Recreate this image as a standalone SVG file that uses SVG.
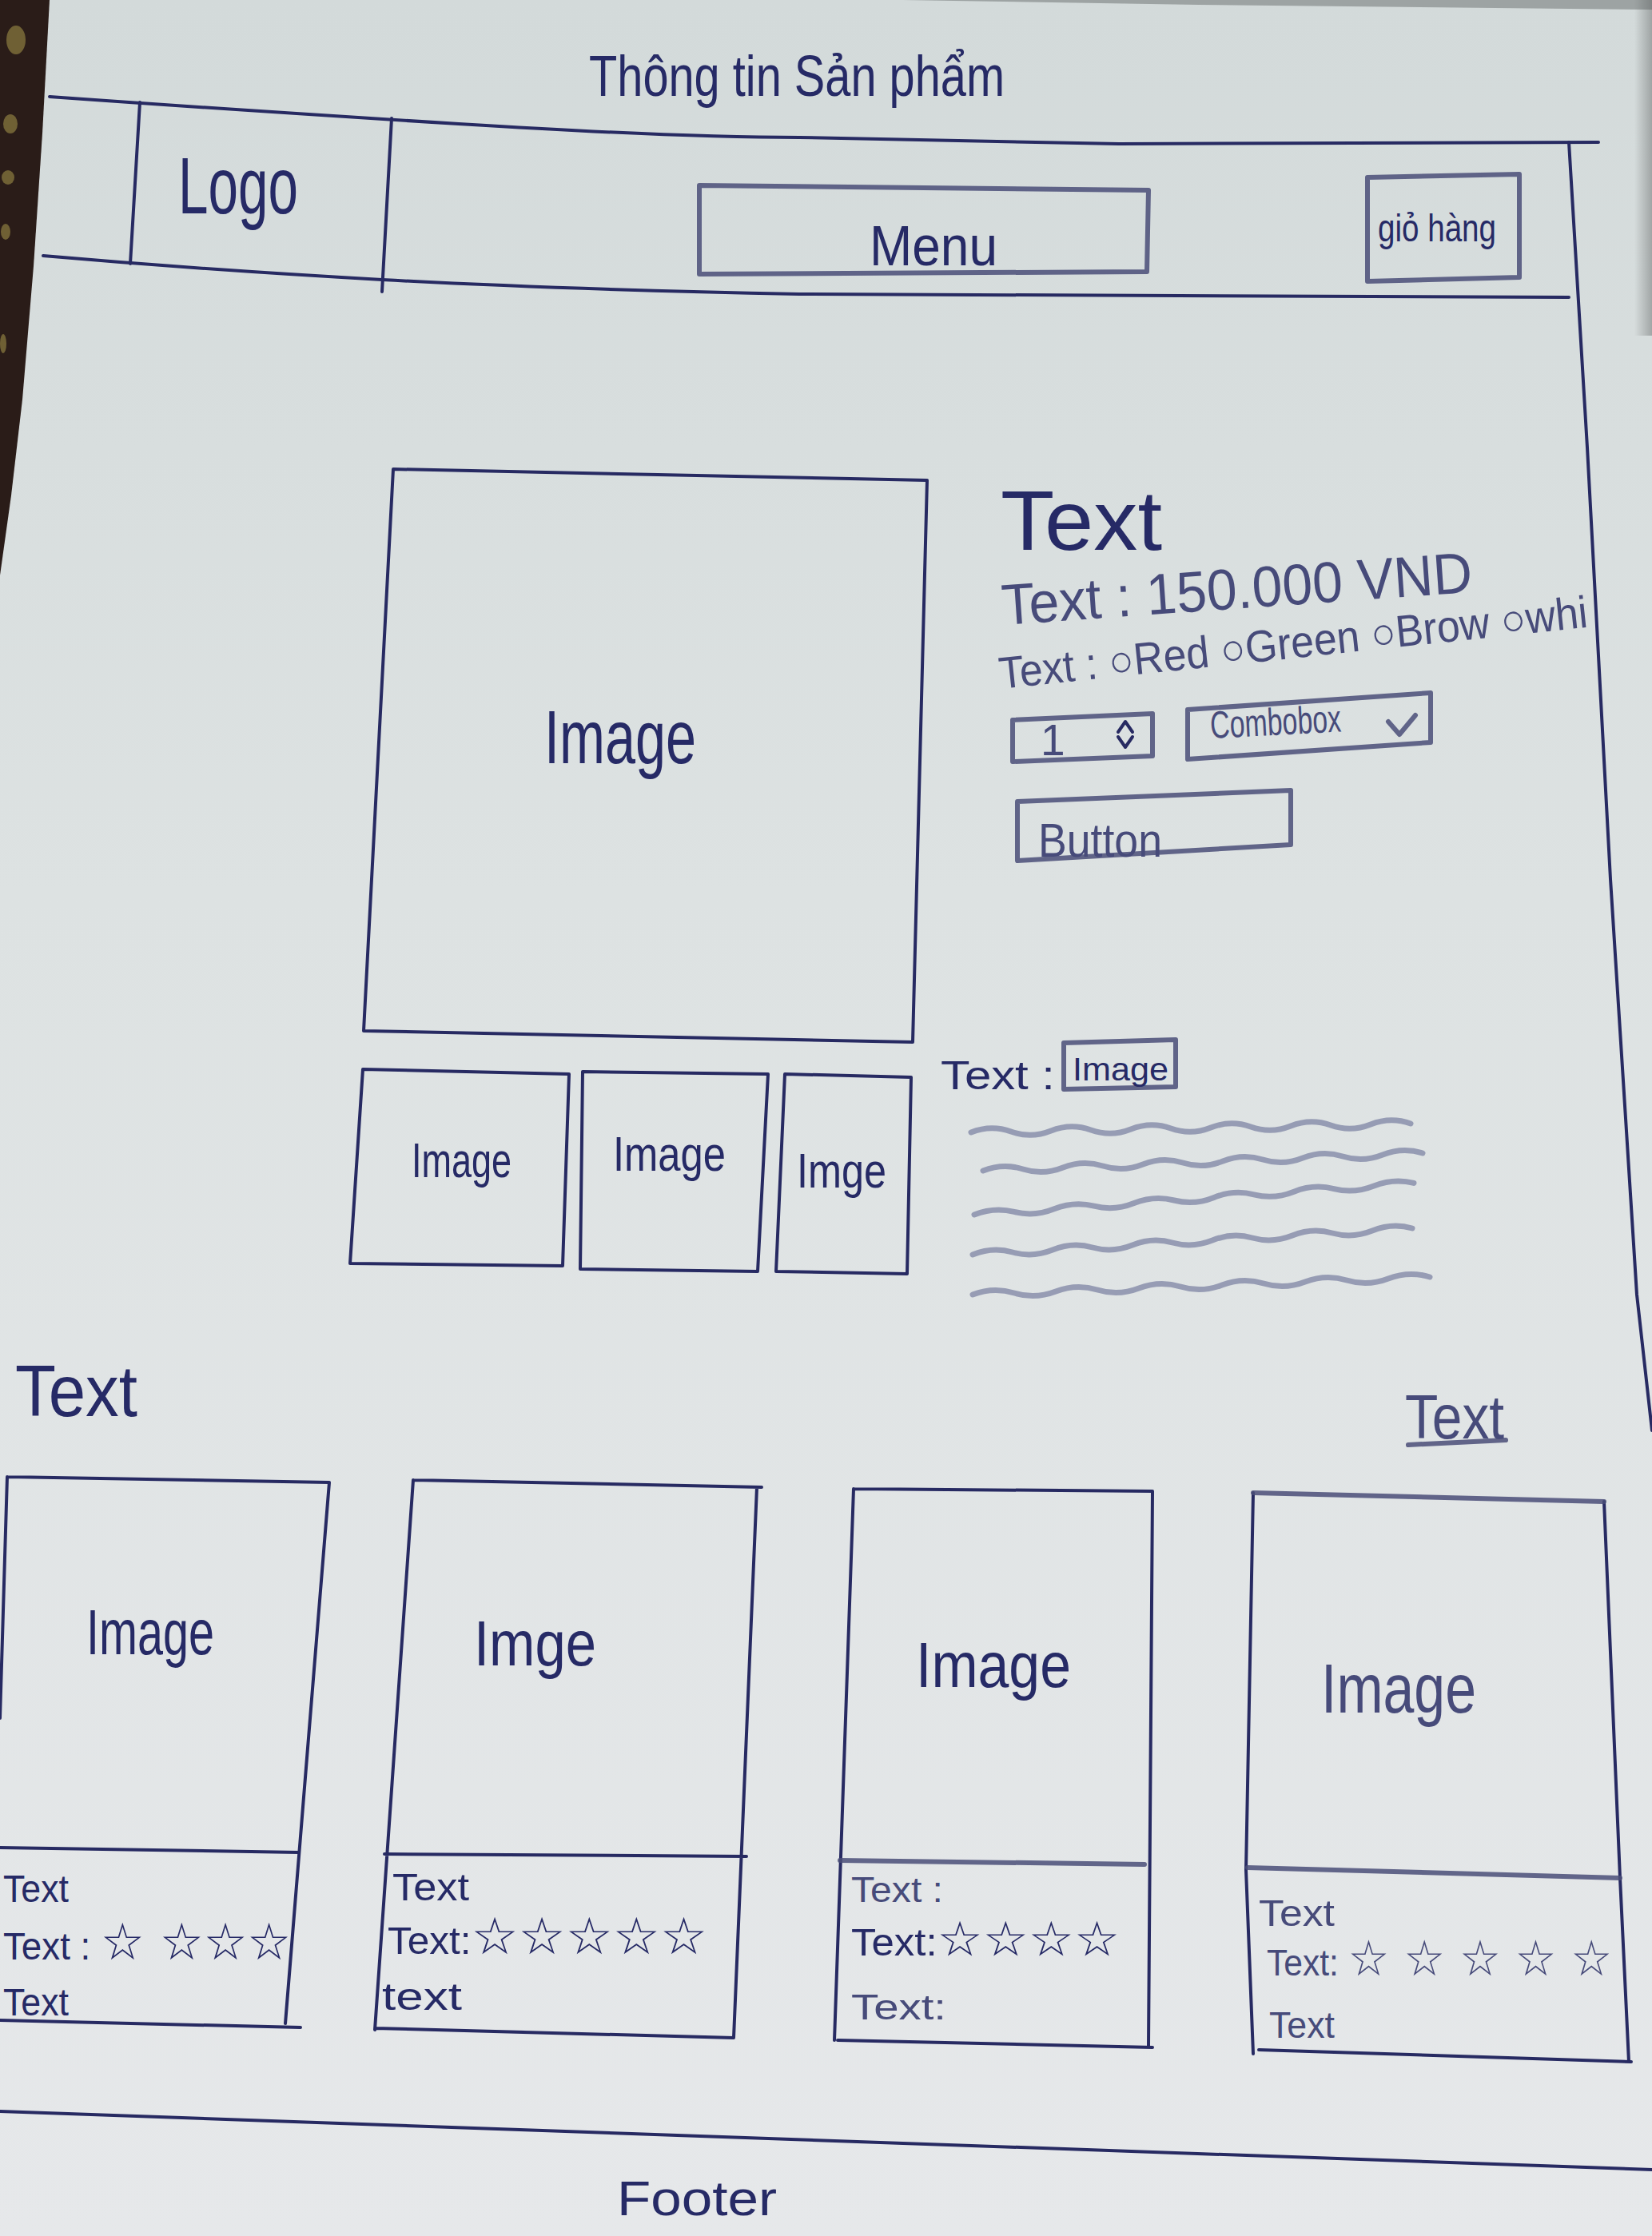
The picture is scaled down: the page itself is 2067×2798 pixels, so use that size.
<svg xmlns="http://www.w3.org/2000/svg" width="2067" height="2798" viewBox="0 0 2067 2798">
<defs>
  <linearGradient id="paper" x1="0" y1="0" x2="0" y2="1">
    <stop offset="0" stop-color="#d3dada"/>
    <stop offset="0.4" stop-color="#dde2e2"/>
    <stop offset="1" stop-color="#e6e8ea"/>
  </linearGradient>
  <linearGradient id="edgeShade" x1="0" y1="0" x2="1" y2="0">
    <stop offset="0" stop-color="#000" stop-opacity="0"/>
    <stop offset="1" stop-color="#000" stop-opacity="0.25"/>
  </linearGradient>
</defs>
<style>
  .ink{fill:none;stroke:#272a62;stroke-width:4;stroke-linecap:round;stroke-linejoin:round}
  .soft{fill:none;stroke:#4a4e78;stroke-width:6;stroke-linecap:round;stroke-linejoin:round;opacity:.85}
  .wave{fill:none;stroke:#8a8fab;stroke-width:7;stroke-linecap:round;stroke-linejoin:round;opacity:.85}
  text{font-family:"Liberation Sans","DejaVu Sans",sans-serif;fill:#262a66}
  .pale{fill:#474b7a}
  .star{font-family:"DejaVu Sans",sans-serif}
</style>

<!-- paper sheet and surroundings -->
<rect width="2067" height="2798" fill="url(#paper)"/>
<polygon points="0,0 62,0 53,167 42,333 28,500 14,620 0,720" fill="#2a1c18"/>
<g fill="#a8984c" opacity="0.55">
  <ellipse cx="20" cy="50" rx="12" ry="18"/>
  <ellipse cx="13" cy="155" rx="9" ry="12"/>
  <ellipse cx="10" cy="222" rx="8" ry="9"/>
  <ellipse cx="7" cy="290" rx="6" ry="10"/>
  <ellipse cx="4" cy="430" rx="4" ry="12"/>
</g>
<rect x="2045" y="0" width="22" height="420" fill="url(#edgeShade)"/>
<polygon points="1130,0 2067,0 2067,12 1500,6" fill="#5b5f60" opacity="0.45"/>

<!-- page title -->
<g id="page-title">
  <text x="737" y="120" font-size="72" textLength="520" lengthAdjust="spacingAndGlyphs">Thông tin Sản phẩm</text>
</g>

<!-- header bar -->
<g id="header">
  <path class="ink" d="M62,121 Q300,138 574,155 T1000,172 L1400,180 L2000,178"/>
  <path class="ink" d="M54,320 Q260,338 478,350 T1000,368 L1963,372"/>
  <path class="ink" d="M1963,178 L1986,560 L2015,1100 L2048,1620 L2067,1790"/>
  <line class="ink" x1="175" y1="128" x2="163" y2="330"/>
  <line class="ink" x1="490" y1="148" x2="478" y2="365"/>
</g>
<g id="logo">
  <text x="223" y="267" font-size="100" textLength="150" lengthAdjust="spacingAndGlyphs">Logo</text>
</g>
<g id="menu">
  <polygon class="soft" points="875,232 1437,238 1435,340 875,343"/>
  <text x="1088" y="332" font-size="70" textLength="160" lengthAdjust="spacingAndGlyphs">Menu</text>
</g>
<g id="cart">
  <polygon class="soft" points="1711,222 1901,218 1901,347 1711,352"/>
  <text x="1724" y="302" font-size="48" textLength="148" lengthAdjust="spacingAndGlyphs">giỏ hàng</text>
</g>

<!-- product gallery -->
<g id="main-image">
  <polygon class="ink" points="492,587 1160,601 1142,1304 455,1290"/>
  <text x="681" y="955" font-size="95" textLength="190" lengthAdjust="spacingAndGlyphs">Image</text>
</g>
<g id="thumb-1">
  <polygon class="ink" points="454,1338 712,1344 704,1584 438,1581"/>
  <text x="515" y="1473" font-size="62" textLength="125" lengthAdjust="spacingAndGlyphs">Image</text>
</g>
<g id="thumb-2">
  <polygon class="ink" points="729,1341 961,1344 948,1591 726,1588"/>
  <text x="767" y="1465" font-size="62" textLength="141" lengthAdjust="spacingAndGlyphs">Image</text>
</g>
<g id="thumb-3">
  <polygon class="ink" points="982,1344 1140,1348 1135,1594 971,1591"/>
  <text x="997" y="1486" font-size="62" textLength="112" lengthAdjust="spacingAndGlyphs">Imge</text>
</g>

<!-- product details -->
<g id="product-name">
  <text x="1252" y="688" font-size="105" textLength="202" lengthAdjust="spacingAndGlyphs">Text</text>
</g>
<g id="price">
  <text class="pale" x="1255" y="782" font-size="72" textLength="590" lengthAdjust="spacingAndGlyphs" transform="rotate(-4 1255 782)">Text : 150.000 VND</text>
</g>
<g id="colors">
  <text class="pale" x="1252" y="862" font-size="56" textLength="740" lengthAdjust="spacingAndGlyphs" transform="rotate(-6 1252 862)">Text : ○Red  ○Green  ○Brow ○whi</text>
</g>
<g id="quantity">
  <polygon class="soft" points="1267,901 1442,893 1442,946 1267,953"/>
  <text class="pale" x="1302" y="945" font-size="55">1</text>
  <path class="ink" d="M1399,916 l9,-13 l9,13 M1399,922 l9,13 l9,-13" stroke-width="5"/>
</g>
<g id="combobox">
  <polygon class="soft" points="1486,888 1790,867 1790,929 1486,950"/>
  <text class="pale" x="1515" y="924" font-size="48" textLength="164" lengthAdjust="spacingAndGlyphs" transform="rotate(-3 1515 924)">Combobox</text>
  <path class="soft" d="M1737,903 l14,16 l20,-24"/>
</g>
<g id="buy-button">
  <polygon class="soft" points="1273,1003 1615,989 1615,1057 1273,1077"/>
  <text class="pale" x="1299" y="1072" font-size="60" textLength="155" lengthAdjust="spacingAndGlyphs">Button</text>
</g>
<g id="description">
  <text x="1177" y="1363" font-size="50" textLength="143" lengthAdjust="spacingAndGlyphs">Text :</text>
  <polygon class="soft" points="1331,1305 1471,1301 1471,1360 1331,1363" stroke-width="5"/>
  <text x="1342" y="1352" font-size="40" textLength="120" lengthAdjust="spacingAndGlyphs">Image</text>
  <path class="wave" d="M1215,1417 q25,-10 50,-1 t50,-1 t50,-1 t50,-1 t50,-1 t50,-1 t50,-1 t50,-1 t50,-1 t50,-1 t50,-1"/>
  <path class="wave" d="M1230,1465 q25,-10 50,-2 t50,-2 t50,-2 t50,-2 t50,-2 t50,-2 t50,-2 t50,-2 t50,-2 t50,-2 t50,-2"/>
  <path class="wave" d="M1219,1520 q25,-10 50,-3.6 t50,-3.6 t50,-3.6 t50,-3.6 t50,-3.6 t50,-3.6 t50,-3.6 t50,-3.6 t50,-3.6 t50,-3.6 t50,-3.6"/>
  <path class="wave" d="M1217,1570 q25,-10 50,-3 t50,-3 t50,-3 t50,-3 t50,-3 t50,-3 t50,-3 t50,-3 t50,-3 t50,-3 t50,-3"/>
  <path class="wave" d="M1217,1620 q26,-10 52,-2 t52,-2 t52,-2 t52,-2 t52,-2 t52,-2 t52,-2 t52,-2 t52,-2 t52,-2 t52,-2"/>
</g>

<!-- related products -->
<g id="related-title">
  <text x="19" y="1772" font-size="90" textLength="153" lengthAdjust="spacingAndGlyphs">Text</text>
</g>
<g id="view-all">
  <text class="pale" x="1758" y="1800" font-size="78" textLength="124" lengthAdjust="spacingAndGlyphs">Text</text>
  <line class="soft" x1="1762" y1="1808" x2="1884" y2="1802"/>
</g>

<g id="card-1">
  <path class="ink" d="M9,1848 L412,1855 L357,2532 M9,1848 L0,2150 M0,2312 L374,2318 M0,2528 L376,2537"/>
  <text x="108" y="2070" font-size="80" textLength="160" lengthAdjust="spacingAndGlyphs">Image</text>
  <text x="4" y="2380" font-size="48" textLength="82" lengthAdjust="spacingAndGlyphs">Text</text>
  <text x="4" y="2452" font-size="48" textLength="360" lengthAdjust="spacingAndGlyphs">Text : <tspan class="star" font-size="64">☆ ☆☆☆</tspan></text>
  <text x="4" y="2522" font-size="48" textLength="82" lengthAdjust="spacingAndGlyphs">Text</text>
</g>
<g id="card-2">
  <path class="ink" d="M517,1852 L953,1861 M517,1852 L469,2540 M947,1861 L918,2550 M481,2320 L934,2323 M469,2538 L918,2550"/>
  <text x="593" y="2084" font-size="80" textLength="153" lengthAdjust="spacingAndGlyphs">Imge</text>
  <text x="491" y="2378" font-size="48" textLength="96" lengthAdjust="spacingAndGlyphs">Text</text>
  <text x="485" y="2445" font-size="48" textLength="400" lengthAdjust="spacingAndGlyphs">Text:<tspan class="star" font-size="64">☆☆☆☆☆</tspan></text>
  <text x="478" y="2515" font-size="48" textLength="100" lengthAdjust="spacingAndGlyphs">text</text>
</g>
<g id="card-3">
  <path class="ink" d="M1068,1863 L1442,1866 M1068,1863 L1044,2553 M1442,1866 L1437,2560 M1048,2553 L1442,2562"/>
  <path class="soft" d="M1051,2328 L1432,2333"/>
  <text x="1146" y="2111" font-size="80" textLength="194" lengthAdjust="spacingAndGlyphs">Image</text>
  <text class="pale" x="1065" y="2380" font-size="44" textLength="115" lengthAdjust="spacingAndGlyphs">Text :</text>
  <text x="1065" y="2447" font-size="48" textLength="336" lengthAdjust="spacingAndGlyphs">Text:<tspan class="star" font-size="60">☆☆☆☆</tspan></text>
  <text class="pale" x="1065" y="2527" font-size="44" textLength="119" lengthAdjust="spacingAndGlyphs">Text:</text>
</g>
<g id="card-4">
  <path class="ink" d="M1568,1868 L1559,2340 L1568,2570 M2007,1879 L2027,2350 L2038,2580 M1575,2565 L2041,2580"/>
  <path class="soft" d="M1568,1868 L2007,1879 M1561,2337 L2027,2350"/>
  <text class="pale" x="1653" y="2143" font-size="88" textLength="194" lengthAdjust="spacingAndGlyphs">Image</text>
  <text class="pale" x="1575" y="2410" font-size="46" textLength="95" lengthAdjust="spacingAndGlyphs">Text</text>
  <text class="pale" x="1585" y="2472" font-size="46" textLength="432" lengthAdjust="spacingAndGlyphs">Text: <tspan class="star" font-size="62">☆ ☆ ☆ ☆ ☆</tspan></text>
  <text class="pale" x="1588" y="2550" font-size="46" textLength="82" lengthAdjust="spacingAndGlyphs">Text</text>
</g>

<!-- footer -->
<g id="footer">
  <path class="ink" d="M0,2642 Q1029,2680 2067,2715" stroke-width="5"/>
  <text x="772" y="2772" font-size="62" textLength="200" lengthAdjust="spacingAndGlyphs">Footer</text>
</g>
</svg>
